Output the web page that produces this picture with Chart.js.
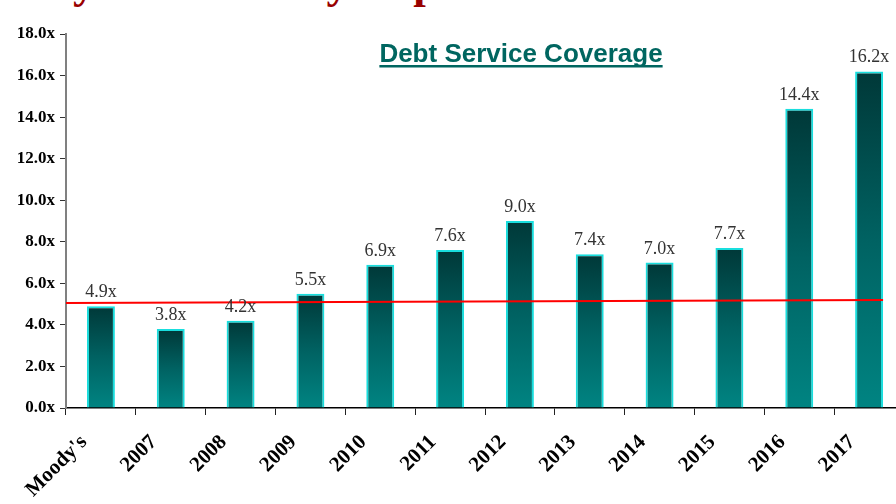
<!DOCTYPE html>
<html>
<head>
<meta charset="utf-8">
<script src="https://cdn.jsdelivr.net/npm/chart.js@4.4.0/dist/chart.umd.min.js"></script>
<style>
  html, body { margin: 0; padding: 0; background: #fff; }
  .wrap { position: relative; width: 896px; height: 504px; overflow: hidden; }
  .slideTitle {
    position: absolute; left: 18px; top: -40px; white-space: nowrap; word-spacing: -2px;
    font: bold 45px/46px "Liberation Serif", "Times New Roman", serif; color: #990000;
  }
  #chart { position: absolute; left: 0; top: 0; }
</style>
</head>
<body>
<div class="wrap">
  <div class="slideTitle">Key Ratio Steady Improvement</div>
  <canvas id="chart" width="904" height="504"></canvas>
</div>
<script>
const categories = ["Moody's", '2007', '2008', '2009', '2010', '2011', '2012', '2013', '2014', '2015', '2016', '2017'];
const coverage = [4.9, 3.8, 4.2, 5.5, 6.9, 7.6, 9.0, 7.4, 7.0, 7.7, 14.4, 16.2];
const yTicks = [0, 2, 4, 6, 8, 10, 12, 14, 16, 18];
// red reference line: value at the y axis and value at the last bar's right edge
const trendLine = [5.05, 5.2];
const chartTitle = 'Debt Service Coverage';

const serif = '"Liberation Serif", "Times New Roman", serif';

function barGradient(ctx) {
  const chart = ctx.chart;
  if (!chart.chartArea || ctx.type !== 'data') return '#008080';
  const y = chart.scales.y;
  const top = y.getPixelForValue(ctx.raw);
  const base = y.getPixelForValue(0);
  const g = chart.ctx.createLinearGradient(0, top, 0, base);
  g.addColorStop(0, '#003838');
  g.addColorStop(0.5, '#006262');
  g.addColorStop(1, '#008482');
  return g;
}

const valueLabels = {
  id: 'valueLabels',
  afterDatasetsDraw(chart) {
    const ctx = chart.ctx;
    const meta = chart.getDatasetMeta(0);
    const y = chart.scales.y;
    const last = meta.data[meta.data.length - 1];

    // red line across the bars
    ctx.save();
    ctx.strokeStyle = '#ff0000';
    ctx.lineWidth = 2;
    ctx.beginPath();
    ctx.moveTo(chart.chartArea.left, y.getPixelForValue(trendLine[0]));
    ctx.lineTo(last.x + last.width / 2, y.getPixelForValue(trendLine[1]));
    ctx.stroke();

    ctx.font = '18px ' + serif;
    ctx.fillStyle = '#333';
    ctx.textAlign = 'center';
    ctx.textBaseline = 'alphabetic';
    meta.data.forEach((bar, i) => {
      ctx.fillText(coverage[i].toFixed(1) + 'x', bar.x, bar.y - 9);
    });
    ctx.restore();
  }
};

const innerTitle = {
  id: 'innerTitle',
  afterDraw(chart) {
    const ctx = chart.ctx;
    ctx.save();
    ctx.font = 'bold 26px "Liberation Sans", Arial, sans-serif';
    ctx.fillStyle = '#006660';
    ctx.textAlign = 'center';
    ctx.textBaseline = 'alphabetic';
    const cx = 521, by = 62;
    ctx.fillText(chartTitle, cx, by);
    const w = ctx.measureText(chartTitle).width;
    ctx.fillRect(cx - w / 2, by + 3, w, 2.5);
    ctx.restore();
  }
};

new Chart(document.getElementById('chart'), {
  type: 'bar',
  data: {
    labels: categories,
    datasets: [{
      data: coverage,
      backgroundColor: barGradient,
      borderColor: '#19dede',
      borderWidth: 2,
      borderSkipped: 'start',
      barPercentage: 0.4,
      categoryPercentage: 1
    }]
  },
  options: {
    responsive: false,
    animation: false,
    layout: { padding: { top: 34, left: 0, right: 0, bottom: 0 } },
    plugins: { legend: { display: false }, tooltip: { enabled: false } },
    scales: {
      x: {
        grid: { drawOnChartArea: false, tickLength: 7, color: '#222', offset: true },
        border: { color: '#000', width: 1.5 },
        ticks: {
          font: { family: serif, size: 21, weight: 'bold' },
          color: '#000',
          minRotation: 45, maxRotation: 45,
          labelOffset: -17,
          padding: 15
        },
        afterFit(scale) {
          scale.height = 96;
          scale.paddingLeft = 0;
          scale.paddingRight = 0;
        }
      },
      y: {
        min: 0, max: 18,
        afterBuildTicks(scale) { scale.ticks = yTicks.map(v => ({value: v})); },
        grid: { drawOnChartArea: false, tickLength: 6, color: '#333' },
        border: { color: '#808080', width: 2 },
        ticks: {
          font: { family: serif, size: 17, weight: 'bold' },
          color: '#000',
          padding: 5,
          callback: v => v.toFixed(1) + 'x'
        },
        afterFit(scale) {
          scale.width = 66;
          scale.paddingTop = 0;
          scale.paddingBottom = 0;
        }
      }
    }
  },
  plugins: [valueLabels, innerTitle]
});
</script>
</body>
</html>
